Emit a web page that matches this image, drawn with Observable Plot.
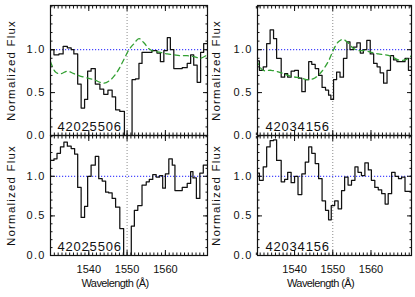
<!DOCTYPE html>
<html>
<head>
<meta charset="utf-8">
<script src="https://cdn.jsdelivr.net/npm/d3@7"></script>
<script src="https://cdn.jsdelivr.net/npm/@observablehq/plot@0.6"></script>
<style>
  html, body { margin: 0; padding: 0; background: white; }
  #chart { position: relative; width: 415px; height: 297px; overflow: hidden; background: white; }
</style>
</head>
<body>
<div id="chart"></div>
<script>
// ---------------- data ----------------
const ids = ["42025506", "42034156"];
const xTicks = [1540, 1550, 1560];
const yTicks = [0, 0.5, 1.0];
const yTitle = "Normalized Flux";
const xTitle = "Wavelength (Å)";
const refLine = 1.0;
const civLine = 1550;

// top-left: 42025506
const wlTL = [1530.0, 1530.9, 1532.2, 1533.3, 1534.4, 1535.4, 1536.1, 1537.1, 1538.0, 1538.9,
  1539.7, 1540.6, 1541.7, 1542.9, 1543.9, 1545.0, 1546.1, 1547.0, 1548.1, 1549.3,
  1550.3, 1551.3, 1552.2, 1553.1, 1553.9, 1554.8, 1555.7, 1556.5, 1557.8, 1558.7,
  1559.6, 1560.5, 1561.3, 1562.2, 1563.3, 1564.4, 1565.7, 1566.6, 1567.4, 1568.3,
  1569.2, 1570.0];
const fluxTL = [1.00, 0.94, 0.95, 1.04, 1.02, 1.00, 0.95, 0.60, 0.32, 0.42,
  0.75, 0.78, 0.60, 0.54, 0.48, 0.53, 0.45, 0.30, 0.28, -0.05,
  -0.05, 0.65, 0.66, 0.84, 0.97, 0.97, 0.97, 0.99, 0.96, 0.86,
  0.99, 1.14, 1.00, 0.78, 0.78, 0.79, 0.84, 0.94, 0.82, 0.62,
  0.97, 1.07];
const modelWlL = [1530.0, 1531.3, 1532.6, 1534.4, 1536.1, 1538.7, 1541.3, 1543.9, 1545.7, 1547.4,
  1549.1, 1550.5, 1551.8, 1553.1, 1554.4, 1555.7, 1557.0, 1558.7, 1560.5, 1562.2,
  1563.9, 1565.7, 1567.4, 1569.2, 1570.6];
const modelL = [0.86, 0.74, 0.72, 0.75, 0.72, 0.68, 0.65, 0.61, 0.65, 0.74,
  0.88, 1.00, 1.07, 1.13, 1.08, 1.01, 0.98, 0.97, 0.95, 0.94,
  0.93, 0.93, 0.92, 0.90, 0.93];

// top-right: 42034156
const wlTR = [1530.0, 1530.8, 1531.8, 1532.7, 1533.6, 1534.5, 1535.3, 1536.5, 1537.4, 1538.2,
  1539.1, 1540.0, 1541.0, 1541.9, 1542.8, 1543.7, 1544.5, 1545.4, 1546.3, 1547.2,
  1548.1, 1548.9, 1549.5, 1550.2, 1551.0, 1551.9, 1552.8, 1553.7, 1554.5, 1555.4,
  1556.3, 1557.2, 1558.0, 1558.9, 1559.8, 1560.7, 1561.6, 1562.4, 1563.3, 1564.2,
  1565.1, 1565.9, 1566.8, 1567.7, 1568.9, 1569.8];
const fluxTR = [0.87, 0.76, 0.80, 1.07, 1.23, 1.13, 0.90, 0.68, 0.72, 0.68,
  0.75, 0.76, 0.67, 0.51, 0.65, 0.86, 0.83, 0.78, 0.70, 0.56,
  0.53, 0.47, 0.42, 0.65, 0.74, 0.68, 0.90, 1.09, 1.00, 1.03,
  1.08, 0.96, 1.00, 1.11, 0.95, 0.84, 0.80, 0.73, 0.61, 0.76,
  0.93, 0.88, 0.86, 0.86, 0.90, 0.76];
const modelWlR = [1530.0, 1531.7, 1533.9, 1536.5, 1539.1, 1541.7, 1543.5, 1545.3, 1547.0, 1548.8,
  1550.1, 1551.4, 1552.7, 1554.0, 1555.3, 1556.6, 1558.4, 1560.1, 1561.9, 1563.7,
  1565.4, 1567.2, 1568.9, 1570.6];
const modelR = [0.88, 0.76, 0.76, 0.73, 0.69, 0.67, 0.65, 0.67, 0.74, 0.86,
  0.99, 1.09, 1.12, 1.08, 1.02, 0.99, 0.99, 0.97, 0.95, 0.94,
  0.92, 0.88, 0.88, 0.93];

// bottom-left: 42025506
const wlBL = [1530.0, 1530.9, 1531.7, 1532.6, 1533.5, 1534.4, 1535.4, 1536.3, 1537.1, 1538.0,
  1538.9, 1539.7, 1540.6, 1541.7, 1542.6, 1543.5, 1544.4, 1545.2, 1546.1, 1547.0,
  1548.1, 1549.1, 1550.0, 1551.1, 1551.9, 1552.8, 1553.9, 1555.0, 1555.8, 1556.7,
  1557.6, 1558.5, 1559.3, 1560.0, 1560.9, 1561.8, 1562.5, 1563.5, 1564.4, 1565.7,
  1566.6, 1567.2, 1568.1, 1569.0, 1569.9];
const fluxBL = [1.20, 1.22, 1.29, 1.37, 1.43, 1.38, 1.35, 1.28, 0.86, 0.48,
  0.62, 1.00, 1.14, 1.25, 0.97, 0.94, 0.80, 0.79, 0.72, 0.61,
  0.34, -0.05, -0.05, 0.37, 0.57, 0.63, 0.89, 0.93, 0.96, 1.02,
  0.99, 1.01, 0.85, 1.03, 1.22, 1.14, 0.82, 0.82, 0.86, 0.91,
  1.06, 0.98, 0.72, 1.04, 1.14];

// bottom-right: 42034156
const wlBR = [1530.0, 1530.8, 1531.8, 1532.7, 1533.6, 1534.5, 1535.3, 1536.5, 1537.4, 1538.2,
  1539.1, 1540.0, 1540.9, 1541.9, 1542.8, 1543.7, 1544.5, 1545.4, 1546.3, 1547.2,
  1548.1, 1548.9, 1549.6, 1550.5, 1551.4, 1552.3, 1553.1, 1554.0, 1554.9, 1555.8,
  1556.6, 1557.5, 1558.4, 1559.3, 1560.1, 1561.0, 1561.9, 1562.8, 1563.7, 1564.5,
  1565.4, 1566.3, 1567.2, 1568.0, 1568.9, 1569.8];
const fluxBR = [1.04, 0.95, 1.12, 1.37, 1.45, 1.46, 1.20, 0.93, 0.96, 1.05,
  0.92, 1.00, 0.77, 1.03, 1.18, 1.37, 1.29, 1.16, 0.97, 0.69,
  0.57, 0.45, 0.63, 0.69, 0.59, 0.82, 0.99, 0.89, 0.95, 1.12,
  1.05, 1.01, 1.17, 1.08, 0.95, 0.86, 0.83, 0.78, 0.65, 0.78,
  1.05, 1.00, 0.97, 0.99, 0.81, 0.81];

// ---------------- drawing ----------------
const FONT = "'Liberation Sans', Arial, Helvetica, sans-serif";
const chart = document.getElementById("chart");

function panel(o) {
  const spec = o.wl.map((w, i) => ({w, f: o.flux[i]}));
  spec.push({w: o.xDomain[1] + 1, f: o.flux[o.flux.length - 1]});
  const model = o.mwl ? o.mwl.map((w, i) => ({w, f: o.model[i]})) : null;
  const minorX = d3.range(1530, o.xDomain[1] + 0.01, 1);
  const minorY = d3.range(0, 1.52, 0.1);
  const marks = [
    Plot.ruleY([refLine], {stroke: "#1a1aff", strokeWidth: 1, strokeDasharray: "1.2,1.8"}),
    Plot.ruleX([civLine], {stroke: "#8c8c8c", strokeWidth: 1, strokeDasharray: "1,2"}),
    Plot.line(spec, {x: "w", y: "f", curve: "step-after", stroke: "#111", strokeWidth: 1.25, clip: true}),
    model ? Plot.line(model, {x: "w", y: "f", curve: "catmull-rom", stroke: "#33a033", strokeWidth: 1.3, strokeDasharray: "5,4", clip: true}) : null,
    Plot.text([o.id], {frameAnchor: "bottom-left", dx: o.idDx, dy: -5, textAnchor: "start", lineAnchor: "bottom", fontSize: 13, fill: "#111"}),
    Plot.text([yTitle], {frameAnchor: "left", dx: o.yTitleDx, rotate: -90, textAnchor: "middle", lineAnchor: "middle", fontSize: 11.5, fill: "#111"}),
    // ticks (inward)
    Plot.axisX({anchor: "bottom", ticks: xTicks, tickSize: -5, fill: "none", label: null}),
    Plot.axisX({anchor: "top", ticks: xTicks, tickSize: -5, fill: "none", label: null}),
    Plot.axisX({anchor: "bottom", ticks: minorX, tickSize: -2.5, fill: "none", label: null}),
    Plot.axisX({anchor: "top", ticks: minorX, tickSize: -2.5, fill: "none", label: null}),
    Plot.axisY({anchor: "left", ticks: yTicks, tickSize: -5, fill: "none", label: null}),
    Plot.axisY({anchor: "right", ticks: yTicks, tickSize: -5, fill: "none", label: null}),
    Plot.axisY({anchor: "left", ticks: minorY, tickSize: -2.5, fill: "none", label: null}),
    Plot.axisY({anchor: "right", ticks: minorY, tickSize: -2.5, fill: "none", label: null}),
    Plot.axisY({anchor: "left", ticks: yTicks, tickSize: 0, tickPadding: 5, tickFormat: d => d.toFixed(1), label: null, fontSize: 11}),
    Plot.frame({stroke: "#111", strokeWidth: 1.2})
  ];
  if (o.bottom) {
    marks.push(Plot.axisX({anchor: "bottom", ticks: xTicks, tickSize: 0, tickPadding: 10, tickFormat: d => String(d), label: null, fontSize: 11}));
    marks.push(Plot.text([xTitle], {frameAnchor: "bottom", dx: -14, dy: 31, textAnchor: "middle", fontSize: 11, fill: "#111"}));
  }
  const svg = Plot.plot({
    width: o.width, height: o.height,
    marginLeft: o.ml, marginRight: o.mr, marginTop: o.mt, marginBottom: o.mb,
    x: {domain: o.xDomain, axis: null},
    y: {domain: [0, 1.515], axis: null},
    style: {position: "absolute", left: o.left + "px", top: o.top + "px", background: "transparent", fontFamily: FONT, color: "#111", overflow: "visible", maxWidth: "none"},
    marks
  });
  d3.select(svg).selectAll("text").each(function () {
    const t = this.textContent;
    if (t === yTitle) this.style.letterSpacing = "1.2px";
    else if (t === xTitle) this.style.letterSpacing = "-0.6px";
    else if (ids.includes(t)) this.style.letterSpacing = "0.8px";
    else if (t.includes(".")) this.style.letterSpacing = "1.2px";
  });
  chart.appendChild(svg);
}

const L = {left: 0, width: 210, ml: 50, mr: 3, xDomain: [1530, 1571], idDx: 7, yTitleDx: -39};
const R = {left: 210, width: 205, ml: 47, mr: 4, xDomain: [1530.3, 1570.6], idDx: 8, yTitleDx: -41};
const T = {top: 0, height: 140, mt: 5, mb: 5, bottom: false};
const B = {top: 130, height: 167, mt: 5, mb: 42, bottom: true};

panel({...L, ...T, wl: wlTL, flux: fluxTL, mwl: modelWlL, model: modelL, id: ids[0]});
panel({...R, ...T, wl: wlTR, flux: fluxTR, mwl: modelWlR, model: modelR, id: ids[1]});
panel({...L, ...B, wl: wlBL, flux: fluxBL, id: ids[0]});
panel({...R, ...B, wl: wlBR, flux: fluxBR, id: ids[1]});
</script>
</body>
</html>
